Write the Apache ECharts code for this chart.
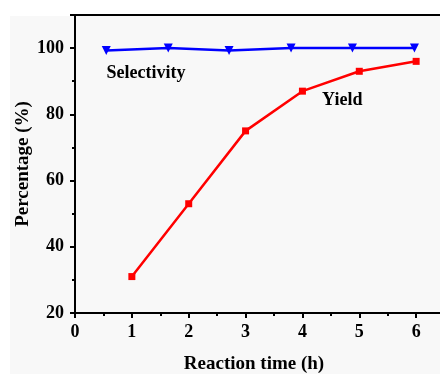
<!DOCTYPE html>
<html><head><meta charset="utf-8">
<script src="https://cdn.jsdelivr.net/npm/echarts@6/dist/echarts.min.js"></script>
<style>html,body{margin:0;padding:0;background:#fff}#c{width:440px;height:374px}</style>
</head><body><div id="c"></div>
<script>
var selX = [0.55, 1.64, 2.71, 3.8, 4.88, 5.97];
var selY = [99.3, 100, 99.3, 100, 100, 100];
var yieldX = [1, 2, 3, 4, 5, 6];
var yieldY = [31, 53, 75, 87, 93, 96];
var xTicks = [0, 1, 2, 3, 4, 5, 6];
var yTicks = [20, 40, 60, 80, 100];

var chart = echarts.init(document.getElementById('c'), null, {renderer: 'canvas'});
var font = '"Liberation Serif", "Times New Roman", serif';
function pairs(xs, ys){ return xs.map(function(x,i){ return [x, ys[i]]; }); }
chart.setOption({
  animation: false,
  backgroundColor: '#ffffff',
  graphic: [{type:'rect', shape:{x:10, y:16, width:440, height:374}, style:{fill:'#f8f8f8'}, z:-10}],
  grid: {left: 75, top: 15, width: 398, height: 298, outerBoundsMode: 'none', containLabel: false,
         show: true, borderColor: '#000', borderWidth: 2, backgroundColor: 'transparent'},
  xAxis: {
    type: 'value', min: 0, max: 7, interval: 1,
    name: 'Reaction time (h)', nameLocation: 'middle', nameGap: 42, nameMoveOverlap: false,
    nameTextStyle: {fontFamily: font, fontWeight: 'bold', fontSize: 19, color: '#000', padding: [0, 40, 0, 0]},
    axisLine: {lineStyle: {color: '#000', width: 2}},
    axisTick: {show: true, inside: false, length: 5, lineStyle: {color: '#000', width: 2}},
    minorTick: {show: true, splitNumber: 2, length: 3, lineStyle: {color: '#000', width: 2}},
    axisLabel: {fontFamily: font, fontWeight: 'bold', fontSize: 18, color: '#000', margin: 10,
      formatter: function(v){ return xTicks.indexOf(v) >= 0 ? String(v) : ''; }},
    splitLine: {show: false}
  },
  yAxis: {
    type: 'value', min: 20, max: 110, interval: 20,
    name: 'Percentage (%)', nameLocation: 'middle', nameGap: 42, nameMoveOverlap: false,
    nameTextStyle: {fontFamily: font, fontWeight: 'bold', fontSize: 19, color: '#000'},
    axisLine: {show: true, lineStyle: {color: '#000', width: 2}},
    axisTick: {show: true, inside: false, length: 5, lineStyle: {color: '#000', width: 2}},
    minorTick: {show: true, splitNumber: 2, length: 3, lineStyle: {color: '#000', width: 2}},
    axisLabel: {fontFamily: font, fontWeight: 'bold', fontSize: 18, color: '#000', margin: 11, showMaxLabel: false,
      formatter: function(v){ return yTicks.indexOf(v) >= 0 ? String(v) : ''; }},
    splitLine: {show: false}
  },
  series: [
    {name: 'Selectivity', type: 'line', data: pairs(selX, selY), symbol: 'triangle', symbolRotate: 180, symbolSize: 9,
     lineStyle: {color: '#0000ff', width: 2.5}, itemStyle: {color: '#0000ff'},
     markPoint: {symbol: 'rect', symbolSize: 0, data: [{coord: [1.25, 92.4], value: 'Selectivity'}],
       label: {show: true, formatter: 'Selectivity', fontFamily: font, fontWeight: 'bold', fontSize: 18, color: '#000'}}},
    {name: 'Yield', type: 'line', data: pairs(yieldX, yieldY), symbol: 'rect', symbolSize: 7,
     lineStyle: {color: '#ff0000', width: 2.5}, itemStyle: {color: '#ff0000'},
     markPoint: {symbol: 'rect', symbolSize: 0, data: [{coord: [4.7, 84.25], value: 'Yield'}],
       label: {show: true, formatter: 'Yield', fontFamily: font, fontWeight: 'bold', fontSize: 18, color: '#000'}}}
  ]
});
</script></body></html>
